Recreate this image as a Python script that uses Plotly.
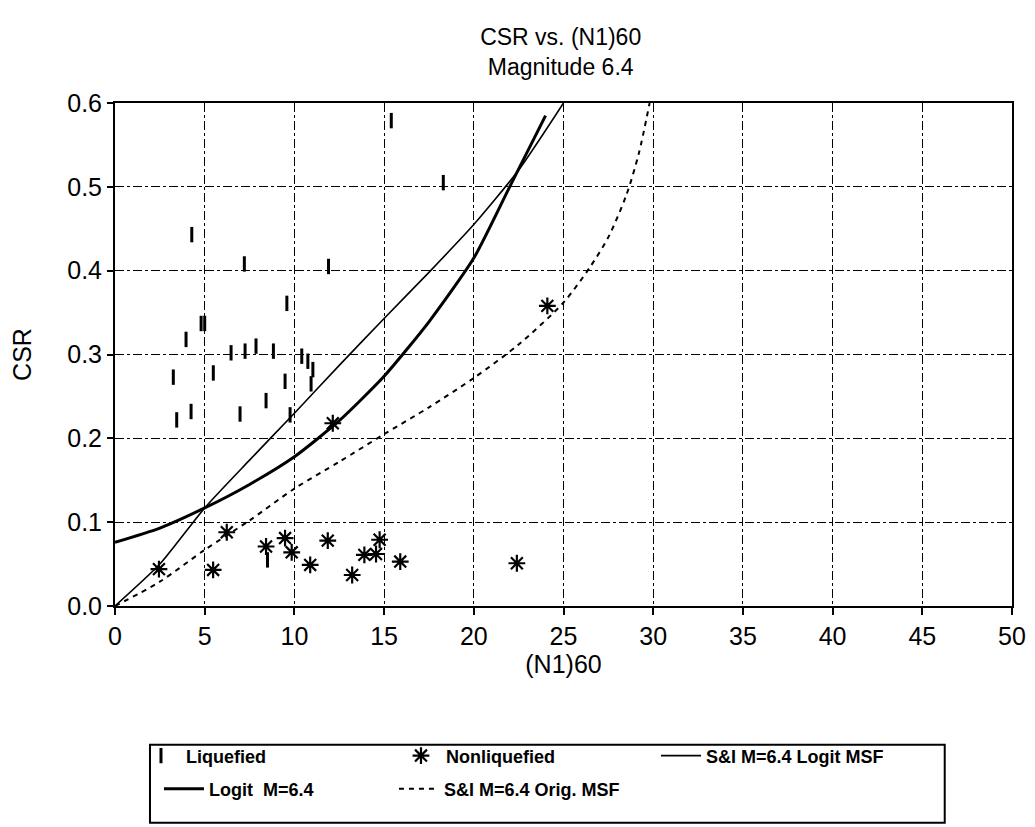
import plotly.graph_objects as go

# Liquefied cases
liq_n160 = [15.4, 4.28, 7.21, 11.9, 9.58, 4.8, 5.0, 3.96, 6.47, 7.25, 7.86, 8.83,
            10.41, 10.75, 11.03, 3.25, 5.48, 9.48, 10.93, 8.42, 4.24, 3.44, 6.97,
            9.76, 18.3, 8.5]
liq_csr = [0.579, 0.443, 0.408, 0.405, 0.361, 0.337, 0.337, 0.318, 0.302, 0.304, 0.310,
           0.304, 0.298, 0.292, 0.282, 0.273, 0.278, 0.268, 0.265, 0.245, 0.232,
           0.222, 0.229, 0.228, 0.505, 0.055]

# Nonliquefied cases
non_n160 = [2.45, 5.47, 6.23, 8.42, 9.48, 9.85, 10.88, 11.86, 13.22, 13.9, 14.55,
            14.75, 15.9, 22.4, 12.14, 24.1]
non_csr = [0.044, 0.043, 0.088, 0.071, 0.081, 0.064, 0.049, 0.078, 0.037, 0.061,
           0.062, 0.079, 0.053, 0.051, 0.218, 0.358]

# Logit M = 6.4 curve
logit_n160 = [0, 2.5, 5, 7.5, 10, 12.5, 15, 17.5, 20, 22, 24]
logit_csr = [0.076, 0.093, 0.117, 0.145, 0.178, 0.221, 0.274, 0.339, 0.415, 0.5, 0.585]

# S&I M = 6.4 Logit MSF curve
si_logit_n160 = [0, 2.5, 5, 7.5, 10, 12.5, 15, 17.5, 20, 22.5, 25]
si_logit_csr = [0.0, 0.05, 0.117, 0.174, 0.23, 0.287, 0.343, 0.398, 0.455, 0.52, 0.6]

# S&I M = 6.4 Orig. MSF curve
si_orig_n160 = [0, 2.5, 5, 7.5, 10, 12.5, 15, 17.5, 20, 22.5, 25, 26.5, 27.5, 28.5,
                29.2, 29.8]
si_orig_csr = [0.0, 0.029, 0.067, 0.102, 0.14, 0.172, 0.205, 0.237, 0.272, 0.312,
               0.362, 0.405, 0.44, 0.49, 0.54, 0.6]

FONT = "Liberation Sans, Arial, sans-serif"
LEG_FONT = dict(size=18, family=FONT, weight="bold", color="black")

fig = go.Figure()
fig.add_trace(go.Scatter(
    x=liq_n160, y=liq_csr, mode="markers", name="Liquefied", legend="legend",
    marker=dict(symbol="line-ns-open", size=11, color="black",
                line=dict(color="black", width=3))))
fig.add_trace(go.Scatter(
    x=non_n160, y=non_csr, mode="markers", name="Nonliquefied", legend="legend",
    marker=dict(symbol="asterisk-open", size=14, color="black",
                line=dict(color="black", width=2.2))))
fig.add_trace(go.Scatter(
    x=si_logit_n160, y=si_logit_csr, mode="lines", name="S&I M=6.4 Logit MSF",
    legend="legend",
    line=dict(color="black", width=1.6, shape="spline", smoothing=0.6)))
fig.add_trace(go.Scatter(
    x=logit_n160, y=logit_csr, mode="lines", name="Logit  M=6.4", legend="legend2",
    line=dict(color="black", width=3, shape="spline", smoothing=0.6)))
fig.add_trace(go.Scatter(
    x=si_orig_n160, y=si_orig_csr, mode="lines", name="S&I M=6.4 Orig. MSF",
    legend="legend2",
    line=dict(color="black", width=2, dash="5px,5px", shape="spline", smoothing=0.8)))

# legend frame (paper coordinates relative to plot area)
fig.add_shape(type="rect", xref="paper", yref="paper",
              x0=0.039, x1=0.925, y0=-0.431, y1=-0.276,
              line=dict(color="black", width=2), fillcolor="rgba(0,0,0,0)")

fig.update_layout(
    width=1035, height=827,
    paper_bgcolor="white", plot_bgcolor="white",
    margin=dict(l=107, r=31, t=95, b=229, autoexpand=False),
    font=dict(family=FONT, color="black"),
    title=dict(text="CSR vs. (N1)60<br>Magnitude 6.4", x=0.534, xanchor="center",
               y=0.955, yanchor="top", font=dict(size=23, family=FONT)),
    showlegend=True,
    legend=dict(orientation="h", x=0.0234, xanchor="left", y=-0.298,
                yanchor="middle", borderwidth=0, bgcolor="rgba(0,0,0,0)",
                entrywidth=205, entrywidthmode="pixels", font=LEG_FONT,
                traceorder="normal", itemwidth=40),
    legend2=dict(orientation="h", x=0.049, xanchor="left", y=-0.364,
                 yanchor="middle", borderwidth=0, bgcolor="rgba(0,0,0,0)",
                 entrywidth=180, entrywidthmode="pixels", font=LEG_FONT,
                 traceorder="normal", itemwidth=40),
)
fig.update_xaxes(
    range=[0, 50], dtick=5, tick0=0, showgrid=True, gridcolor="black", gridwidth=1,
    griddash="dashdot", showline=True, linecolor="black", linewidth=2, mirror=True,
    ticks="outside", ticklen=7, tickwidth=2, tickcolor="black",
    tickfont=dict(size=25, family=FONT), automargin=False,
    title=dict(text="(N1)60", font=dict(size=25, family=FONT), standoff=0),
    zeroline=False)
fig.update_yaxes(
    range=[0, 0.6], dtick=0.1, tick0=0, tickformat=".1f", showgrid=True,
    gridcolor="black", gridwidth=1, griddash="dashdot", showline=True,
    linecolor="black", linewidth=2, mirror=True, ticks="outside", ticklen=6,
    tickwidth=1.5, tickcolor="black", tickfont=dict(size=25, family=FONT),
    automargin=False,
    title=dict(text="CSR", font=dict(size=25, family=FONT), standoff=30),
    zeroline=False)

fig.write_html("out.html")
